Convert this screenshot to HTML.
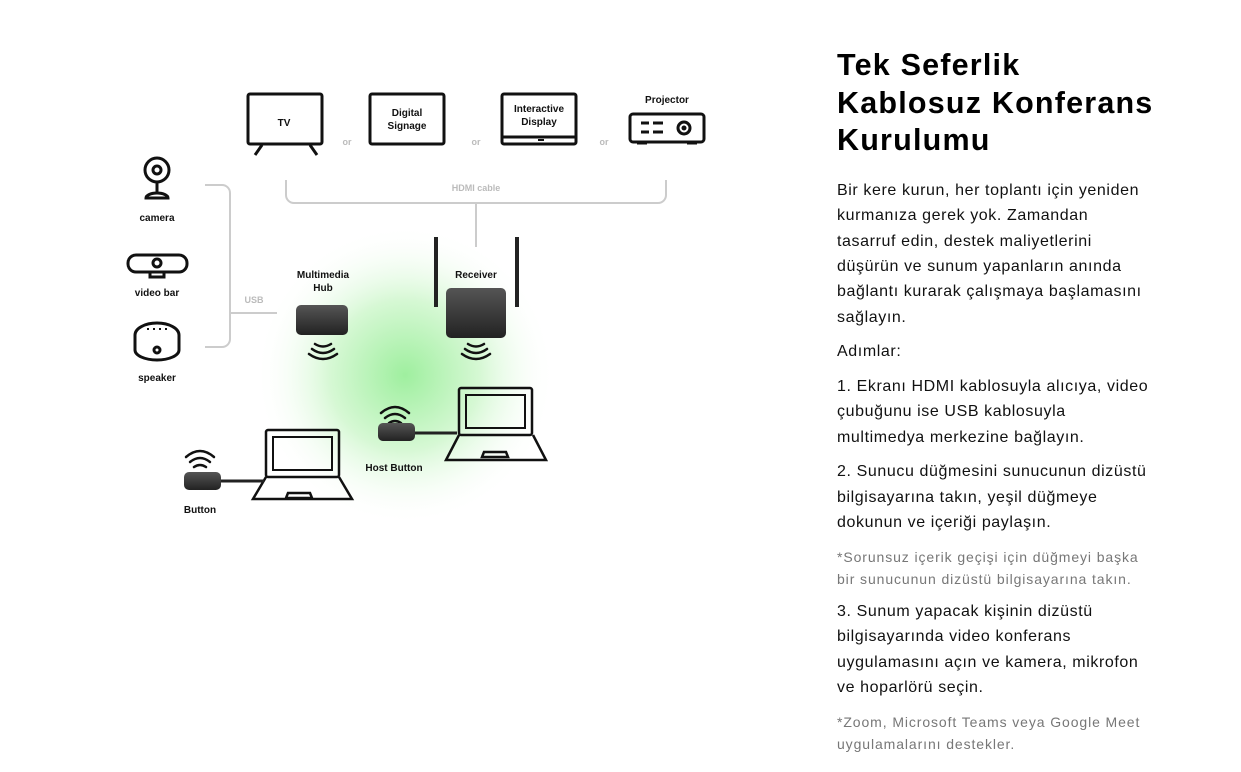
<!DOCTYPE html>
<html><head><meta charset="utf-8"><style>
body{margin:0;width:1241px;height:772px;background:#fff;position:relative;overflow:hidden;font-family:"Liberation Sans",sans-serif}
.l{position:absolute;left:837px;white-space:nowrap;color:#111;font-size:16px;line-height:20px;letter-spacing:0.6px}
.s{color:#777;font-size:14px;letter-spacing:0.9px}
h1{position:absolute;left:837px;top:47px;margin:0;font-size:30.5px;line-height:37.5px;font-weight:bold;letter-spacing:1.2px;color:#000}
svg text{font-family:"Liberation Sans",sans-serif;font-weight:bold;fill:#111}
</style></head><body>
<svg width="760" height="772" style="position:absolute;left:0;top:0">
<defs><radialGradient id="g" cx="0.5" cy="0.5" r="0.5"><stop offset="0" stop-color="#9fef9f"/><stop offset="0.5" stop-color="#d6f8d4"/><stop offset="1" stop-color="#fff" stop-opacity="0"/></radialGradient>
<linearGradient id="d" x1="0" y1="0" x2="0" y2="1"><stop offset="0" stop-color="#555"/><stop offset="1" stop-color="#222"/></linearGradient></defs>
<circle cx="405" cy="375" r="150" fill="url(#g)"/>
<g fill="none" stroke="#111" stroke-width="3">
<rect x="248" y="94" width="74" height="50" rx="2"/><path d="M262 145l-7 10M310 145l7 10"/>
<rect x="370" y="94" width="74" height="50" rx="2"/>
<rect x="502" y="94" width="74" height="50" rx="2"/><path d="M502 137h74"/>
<rect x="630" y="114" width="74" height="28" rx="3"/><circle cx="684" cy="128" r="6"/>
</g>
<path d="M538 140h6" stroke="#111" stroke-width="2"/>
<path d="M641 123h8M653 123h10M641 132h8M653 132h10M637 143h10M687 143h10" stroke="#111" stroke-width="3"/>
<circle cx="684" cy="128" r="2.5" fill="#111"/>
<text x="284" y="126" font-size="10" text-anchor="middle">TV</text>
<text x="407" y="116" font-size="10" text-anchor="middle">Digital</text><text x="407" y="129" font-size="10" text-anchor="middle">Signage</text>
<text x="539" y="112" font-size="10" text-anchor="middle">Interactive</text><text x="539" y="125" font-size="10" text-anchor="middle">Display</text>
<text x="667" y="103" font-size="10" text-anchor="middle">Projector</text>
<g font-size="9"><text x="347" y="145" text-anchor="middle" style="fill:#bbb">or</text><text x="476" y="145" text-anchor="middle" style="fill:#bbb">or</text><text x="604" y="145" text-anchor="middle" style="fill:#bbb">or</text>
<text x="476" y="191" text-anchor="middle" style="fill:#bbb">HDMI cable</text><text x="254" y="303" text-anchor="middle" style="fill:#bbb">USB</text></g>
<g fill="none" stroke="#ccc" stroke-width="2">
<path d="M286 180v15a8 8 0 0 0 8 8h364a8 8 0 0 0 8-8v-15M476 203v44"/>
<path d="M205 185h17a8 8 0 0 1 8 8v146a8 8 0 0 1-8 8h-17M230 313h47"/>
</g>
<g fill="none" stroke="#111" stroke-width="3">
<circle cx="157" cy="170" r="12"/><circle cx="157" cy="170" r="4"/><path d="M157 182v10M146 198a11 5 0 0 1 22 0z"/>
<rect x="128" y="255" width="59" height="17" rx="8"/><circle cx="157" cy="263" r="4"/><path d="M150 272v5h14v-5"/>
<path d="M135 335a22 12 0 0 1 44 0v15a22 10 0 0 1-44 0z"/><circle cx="157" cy="350" r="3"/>
</g>
<path d="M147 329h2M153 329h2M159 329h2M165 329h2" stroke="#111" stroke-width="2"/>
<text x="157" y="221" font-size="10" text-anchor="middle">camera</text>
<text x="157" y="296" font-size="10" text-anchor="middle">video bar</text>
<text x="157" y="381" font-size="10" text-anchor="middle">speaker</text>
<text x="323" y="278" font-size="10" text-anchor="middle">Multimedia</text><text x="323" y="291" font-size="10" text-anchor="middle">Hub</text>
<text x="476" y="278" font-size="10" text-anchor="middle">Receiver</text>
<rect x="296" y="305" width="52" height="30" rx="5" fill="url(#d)"/>
<rect x="434" y="237" width="4" height="70" fill="#222"/><rect x="515" y="237" width="4" height="70" fill="#222"/>
<rect x="446" y="288" width="60" height="50" rx="5" fill="url(#d)"/>
<g fill="none" stroke="#111" stroke-width="2.5" stroke-linecap="round">
<path d="M312 349q11 8 22 0M309 354q14 10 28 0M315 344q8 5 16 0"/>
<path d="M465 349q11 8 22 0M462 354q14 10 28 0M468 344q8 5 16 0"/>
<path d="M381 413q14-12 28 0M385 418q10-8 20 0M389 423q6-4 12 0"/>
<path d="M186 457q14-12 28 0M190 462q10-8 20 0M194 467q6-4 12 0"/>
<rect x="459" y="388" width="73" height="47" rx="2"/><rect x="466" y="395" width="59" height="33" stroke-width="2"/>
<path d="M459 435l-13 25h100l-13-25M484 452h22l2 5h-26z" stroke-linecap="butt"/>
<rect x="266" y="430" width="73" height="47" rx="2"/><rect x="273" y="437" width="59" height="33" stroke-width="2"/>
<path d="M266 477l-13 22h99l-13-22M288 493h22l2 5h-26z" stroke-linecap="butt"/>
</g>
<path d="M412 433h45" stroke="#222" stroke-width="3"/><path d="M218 481h46" stroke="#222" stroke-width="3"/>
<rect x="378" y="423" width="37" height="18" rx="5" fill="url(#d)"/>
<rect x="184" y="472" width="37" height="18" rx="5" fill="url(#d)"/>
<text x="394" y="471" font-size="10" text-anchor="middle">Host Button</text>
<text x="200" y="513" font-size="10" text-anchor="middle">Button</text>
</svg>
<h1>Tek Seferlik<br>Kablosuz Konferans<br>Kurulumu</h1>
<div class="l" style="top:181px">Bir kere kurun, her toplantı için yeniden</div>
<div class="l" style="top:206px">kurmanıza gerek yok. Zamandan</div>
<div class="l" style="top:232px">tasarruf edin, destek maliyetlerini</div>
<div class="l" style="top:257px">düşürün ve sunum yapanların anında</div>
<div class="l" style="top:282px">bağlantı kurarak çalışmaya başlamasını</div>
<div class="l" style="top:308px">sağlayın.</div>
<div class="l" style="top:342px">Adımlar:</div>
<div class="l" style="top:377px">1. Ekranı HDMI kablosuyla alıcıya, video</div>
<div class="l" style="top:402px">çubuğunu ise USB kablosuyla</div>
<div class="l" style="top:428px">multimedya merkezine bağlayın.</div>
<div class="l" style="top:462px">2. Sunucu düğmesini sunucunun dizüstü</div>
<div class="l" style="top:488px">bilgisayarına takın, yeşil düğmeye</div>
<div class="l" style="top:513px">dokunun ve içeriği paylaşın.</div>
<div class="l s" style="top:547px">*Sorunsuz içerik geçişi için düğmeyi başka</div>
<div class="l s" style="top:569px">bir sunucunun dizüstü bilgisayarına takın.</div>
<div class="l" style="top:602px">3. Sunum yapacak kişinin dizüstü</div>
<div class="l" style="top:627px">bilgisayarında video konferans</div>
<div class="l" style="top:653px">uygulamasını açın ve kamera, mikrofon</div>
<div class="l" style="top:678px">ve hoparlörü seçin.</div>
<div class="l s" style="top:712px">*Zoom, Microsoft Teams veya Google Meet</div>
<div class="l s" style="top:734px">uygulamalarını destekler.</div>
</body></html>
